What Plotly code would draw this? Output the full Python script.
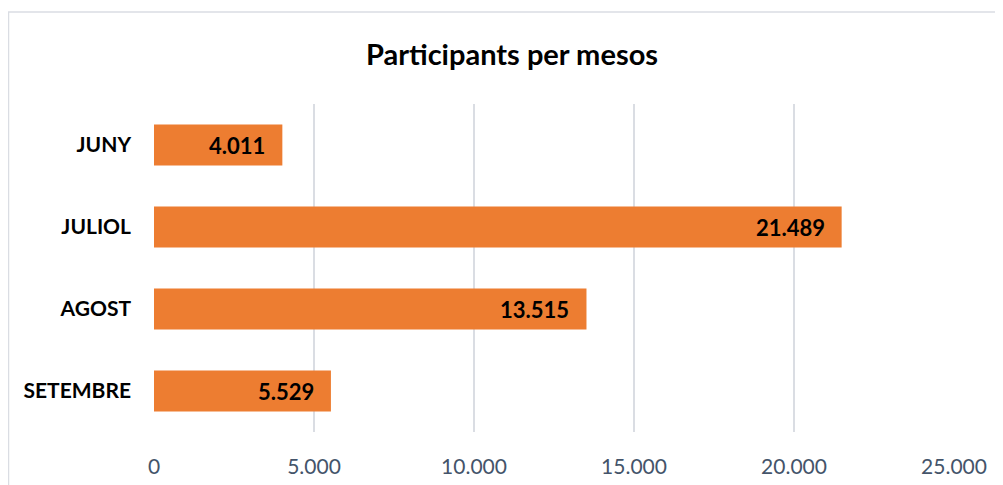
import plotly.graph_objects as go

# data
months = ["JUNY", "JULIOL", "AGOST", "SETEMBRE"]
participants = [4011, 21489, 13515, 5529]
x_ticks = [0, 5000, 10000, 15000, 20000, 25000]

FONT = "Lato, Noto Sans, sans-serif"


def fmt(v):
    return f"{v:,}".replace(",", ".")


fig = go.Figure()

fig.add_trace(go.Bar(
    y=months,
    x=participants,
    orientation="h",
    marker=dict(color="#ED7D31", line=dict(width=0)),
    hoverinfo="x+y",
))

# data labels inside the bar end
for m, v in zip(months, participants):
    fig.add_annotation(
        x=v, y=m, text=f"<b>{fmt(v)}</b>",
        xanchor="right", xshift=-15, showarrow=False,
        font=dict(family=FONT, size=22, color="#000000"),
    )

# outer chart frame (light gray, runs off the page right/bottom)
pw, ph = 800, 328
fig.add_shape(
    type="rect", xref="paper", yref="paper",
    x0=-145.5 / pw, x1=1.3, y0=-0.5, y1=1 + 92 / ph,
    line=dict(color="#DADDE3", width=1.5), fillcolor="rgba(0,0,0,0)",
    layer="below",
)

fig.update_layout(
    width=1003,
    height=485,
    paper_bgcolor="white",
    plot_bgcolor="white",
    separators=",.",
    showlegend=False,
    bargap=0.5,
    margin=dict(l=146, r=57, t=96, b=61),
    title=dict(
        text="<b>Participants per mesos</b>",
        x=504 / 1003, xanchor="center",
        y=1 - 47 / 485, yanchor="middle",
        font=dict(family=FONT, size=29, color="#000000"),
    ),
    xaxis=dict(
        range=[0, 25000],
        tickvals=x_ticks,
        ticktext=[fmt(t) for t in x_ticks],
        showgrid=True,
        gridcolor="#DADDE3",
        gridwidth=1.5,
        zeroline=False,
        showline=False,
        ticks="",
        ticklabelstandoff=20,
        tickfont=dict(family=FONT, size=21, color="#44546A"),
        fixedrange=True,
    ),
    yaxis=dict(
        categoryorder="array",
        categoryarray=months[::-1],
        showgrid=False,
        zeroline=False,
        showline=False,
        ticks="",
        ticklabelstandoff=22,
        tickfont=dict(family=FONT, size=21, color="#000000", weight="bold"),
        fixedrange=True,
    ),
)

fig.write_html("out.html")
